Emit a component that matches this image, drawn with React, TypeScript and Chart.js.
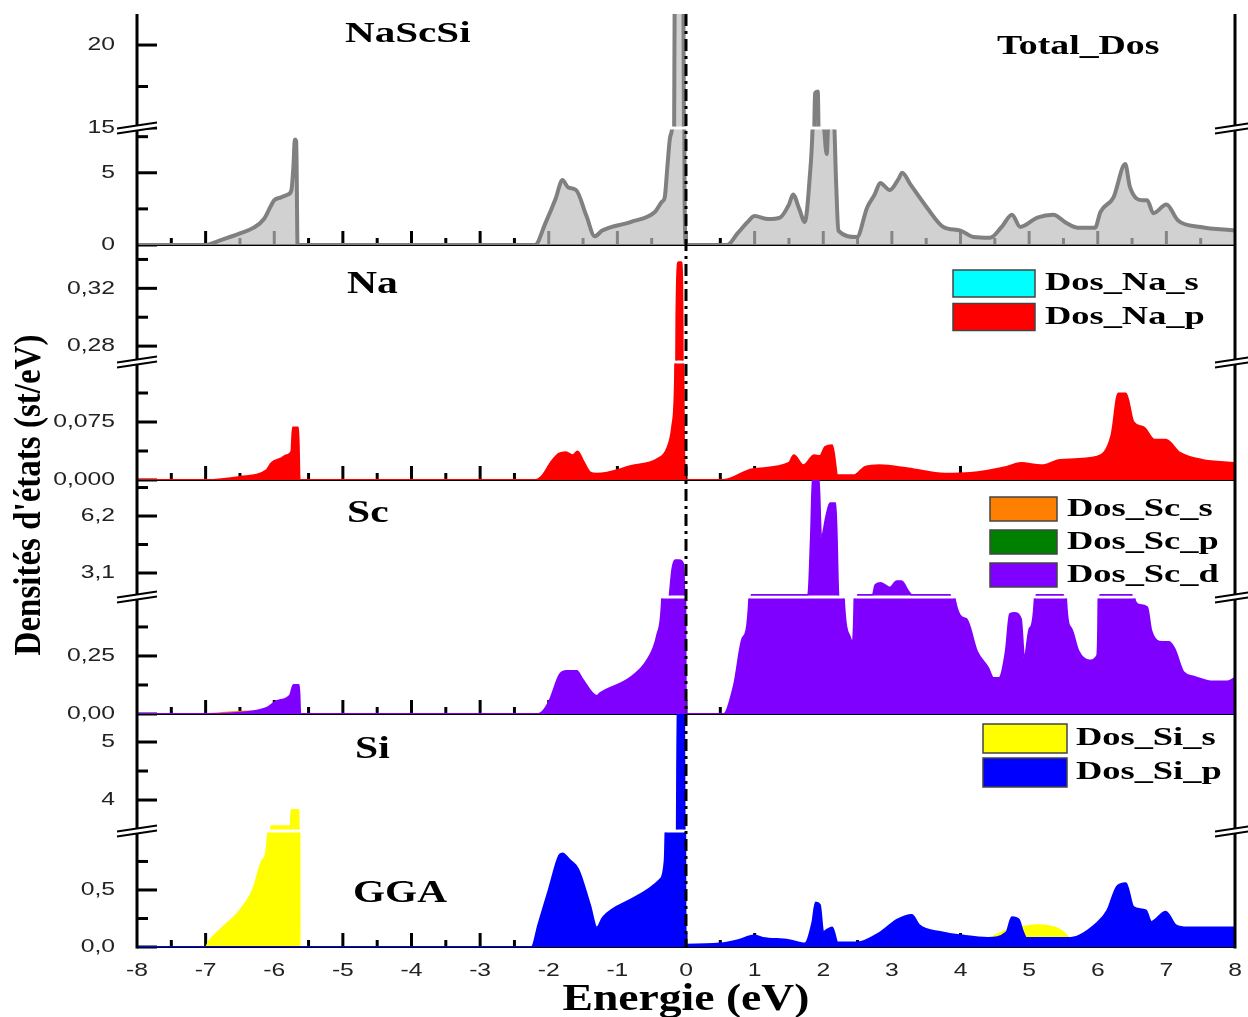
import React, { useEffect, useRef } from 'react';
import { Chart, registerables } from 'chart.js';

type Pt = [number, number];

// ---------------- data (energy eV, DOS st/eV) ----------------
const X_TICKS = [-8, -7, -6, -5, -4, -3, -2, -1, 0, 1, 2, 3, 4, 5, 6, 7, 8];
const X_TICK_LABELS = ['-8', '-7', '-6', '-5', '-4', '-3', '-2', '-1', '0', '1', '2', '3', '4', '5', '6', '7', '8'];

const TOTAL_DOS: Pt[] = [
  [-8, 0], [-7.0, 0], [-6.8, 0.3], [-6.5, 0.8], [-6.3, 1.2], [-6.15, 1.8], [-6.05, 2.7], [-6.0, 3.1], [-5.9, 3.3], [-5.8, 3.5],
  [-5.75, 3.8], [-5.72, 5.5], [-5.7, 7.3], [-5.68, 7.2], [-5.66, 0], [-2.2, 0], [-2.05, 1.5], [-1.9, 3.2], [-1.8, 4.5], [-1.72, 4.0],
  [-1.6, 3.8], [-1.45, 2.0], [-1.33, 0.6], [-1.22, 1.0], [-0.8, 1.6], [-0.45, 2.3], [-0.35, 3.0], [-0.31, 3.3], [-0.27, 5.5], [-0.23, 7.5],
  [-0.18, 10], [-0.16, 25], [-0.04, 25], [-0.02, 3], [0, 0], [0.6, 0], [0.75, 0.8], [0.9, 1.6], [1.0, 2.0], [1.2, 1.8],
  [1.37, 1.9], [1.5, 2.8], [1.56, 3.5], [1.65, 2.5], [1.73, 1.6], [1.8, 4.5], [1.85, 9], [1.88, 17.1], [1.92, 17.2], [1.95, 9],
  [2.0, 8.5], [2.05, 6.3], [2.08, 9], [2.15, 9], [2.19, 4], [2.22, 1.0], [2.49, 0.55], [2.64, 2.6], [2.75, 3.5], [2.83, 4.3],
  [2.97, 3.8], [3.1, 4.6], [3.15, 5.0], [3.27, 4.2], [3.51, 2.6], [3.75, 1.25], [4.0, 1.0], [4.19, 0.55], [4.43, 0.5], [4.6, 1.25],
  [4.75, 2.1], [4.87, 1.25], [5.12, 1.9], [5.35, 2.1], [5.55, 1.5], [5.7, 1.2], [5.96, 1.2], [6.04, 2.3], [6.23, 3.3], [6.4, 5.6],
  [6.47, 4.0], [6.65, 3.1], [6.72, 3.1], [6.81, 2.2], [7.0, 2.8], [7.17, 1.7], [7.5, 1.25], [8.0, 1.0],
];

const NA_S: Pt[] = [[-8, 0], [8, 0]];
const NA_P: Pt[] = [
  [-8, 0], [-7, 0], [-6.5, 0.004], [-6.11, 0.013], [-6.04, 0.022], [-5.9, 0.028], [-5.82, 0.032], [-5.75, 0.037], [-5.73, 0.068], [-5.65, 0.068],
  [-5.63, 0], [-2.2, 0], [-2.1, 0.005], [-1.95, 0.025], [-1.85, 0.034], [-1.75, 0.036], [-1.65, 0.032], [-1.58, 0.037], [-1.5, 0.025], [-1.4, 0.01],
  [-1.3, 0.008], [-0.8, 0.018], [-0.4, 0.028], [-0.28, 0.04], [-0.2, 0.07], [-0.16, 0.13], [-0.14, 0.3], [-0.11, 0.338], [-0.07, 0.338], [-0.05, 0.3],
  [-0.03, 0.05], [0, 0], [0.55, 0], [0.97, 0.014], [1.5, 0.022], [1.57, 0.032], [1.71, 0.019], [1.87, 0.032], [1.95, 0.031], [2.03, 0.043],
  [2.13, 0.045], [2.21, 0.006], [2.45, 0.006], [2.61, 0.017], [2.82, 0.019], [3.24, 0.015], [3.77, 0.008], [4.14, 0.009], [4.67, 0.017], [4.88, 0.022],
  [5.19, 0.019], [5.45, 0.026], [5.99, 0.03], [6.2, 0.058], [6.3, 0.112], [6.41, 0.112], [6.52, 0.075], [6.67, 0.068], [6.83, 0.052], [6.99, 0.052],
  [7.2, 0.035], [7.52, 0.026], [8, 0.022],
];

const SC_S: Pt[] = [[-8, 0], [-7, 0], [-6.6, 0.008], [-6.2, 0.012], [-5.9, 0.01], [-5.7, 0.006], [-5.65, 0], [8, 0]];
const SC_P: Pt[] = [[-8, 0], [8, 0]];
const SC_D: Pt[] = [
  [-8, 0], [-6.8, 0], [-6.5, 0.005], [-6.11, 0.026], [-5.96, 0.056], [-5.77, 0.08], [-5.72, 0.125], [-5.64, 0.125], [-5.62, 0], [-2.15, 0],
  [-2.0, 0.05], [-1.84, 0.17], [-1.74, 0.185], [-1.59, 0.185], [-1.52, 0.155], [-1.3, 0.078], [-1.25, 0.09], [-0.82, 0.155], [-0.57, 0.23], [-0.42, 0.34],
  [-0.35, 0.49], [-0.25, 1.5], [-0.2, 3.3], [-0.16, 3.8], [-0.1, 3.8], [-0.04, 3.6], [-0.02, 1.5], [0, 0], [0.55, 0], [0.7, 0.125],
  [0.83, 0.33], [0.92, 0.49], [0.95, 1.9], [1.5, 1.9], [1.78, 1.9], [1.82, 5], [1.85, 8.5], [1.93, 8.5], [1.97, 5.0], [2.05, 6.3],
  [2.1, 6.9], [2.18, 6.9], [2.22, 1.9], [2.3, 0.5], [2.39, 0.33], [2.43, 0.31], [2.46, 0.6], [2.5, 1.9], [2.72, 1.9], [2.76, 2.45],
  [2.84, 2.55], [2.97, 2.3], [3.07, 2.65], [3.14, 2.65], [3.24, 2.1], [3.29, 1.9], [3.85, 1.9], [3.92, 0.49], [4.08, 0.41], [4.24, 0.27],
  [4.4, 0.2], [4.48, 0.155], [4.56, 0.155], [4.66, 0.27], [4.72, 0.43], [4.79, 0.435], [4.88, 0.41], [4.93, 0.24], [5.01, 0.37], [5.08, 0.49],
  [5.1, 1.9], [5.5, 1.9], [5.54, 0.49], [5.61, 0.37], [5.72, 0.27], [5.88, 0.23], [5.99, 0.25], [6.01, 0.49], [6.03, 1.9], [6.5, 1.9],
  [6.54, 0.49], [6.62, 0.47], [6.72, 0.46], [6.78, 0.36], [6.94, 0.31], [7.04, 0.31], [7.12, 0.28], [7.25, 0.18], [7.41, 0.16], [7.68, 0.14],
  [7.89, 0.14], [8.0, 0.155],
];

const SI_S: Pt[] = [
  [-8, 0], [-7.0, 0], [-6.95, 0.05], [-6.79, 0.15], [-6.5, 0.32], [-6.31, 0.5], [-6.17, 0.76], [-6.09, 1.0], [-6.05, 3.55], [-5.76, 3.55],
  [-5.75, 3.83], [-5.64, 3.83], [-5.63, 0], [4.3, 0], [4.45, 0.08], [4.7, 0.15], [4.95, 0.18], [5.14, 0.19], [5.3, 0.18], [5.45, 0.15],
  [5.55, 0.1], [5.61, 0.06], [5.65, 0], [8, 0],
];
const SI_P: Pt[] = [
  [-8, 0], [-2.25, 0], [-2.15, 0.2], [-2.0, 0.5], [-1.85, 0.8], [-1.8, 0.82], [-1.69, 0.76], [-1.57, 0.68], [-1.4, 0.37], [-1.3, 0.17],
  [-1.21, 0.26], [-0.82, 0.41], [-0.38, 0.59], [-0.31, 0.76], [-0.28, 1.5], [-0.14, 2.5], [-0.12, 6], [-0.03, 6], [-0.01, 0.5], [0, 0.02],
  [0.49, 0.03], [0.76, 0.06], [0.99, 0.1], [1.12, 0.08], [1.5, 0.06], [1.73, 0.03], [1.84, 0.21], [1.89, 0.39], [1.95, 0.37], [2.0, 0.13],
  [2.05, 0.15], [2.13, 0.17], [2.21, 0.04], [2.5, 0.04], [2.81, 0.12], [3.08, 0.24], [3.29, 0.28], [3.4, 0.19], [3.72, 0.13], [4.03, 0.1],
  [4.4, 0.08], [4.67, 0.13], [4.75, 0.26], [4.85, 0.24], [4.9, 0.15], [4.96, 0.08], [5.61, 0.08], [5.99, 0.21], [6.14, 0.32], [6.28, 0.53],
  [6.41, 0.56], [6.52, 0.35], [6.7, 0.32], [6.78, 0.22], [6.99, 0.31], [7.14, 0.19], [7.31, 0.17], [8.0, 0.17],
];

// broken-axis ranges and ticks
const TOTAL_HI_RANGE = [15, 21.87];
const TOTAL_LO_RANGE = [0, 8.1];
const NA_HI_RANGE = [0.269, 0.35];
const NA_LO_RANGE = [0, 0.1526];
const SC_HI_RANGE = [1.794, 8.16];
const SC_LO_RANGE = [0, 0.504];
const SI_HI_RANGE = [3.466, 5.483];
const SI_LO_RANGE = [0, 1.017];

const TOTAL_HI_TICKS = [15, 20];
const TOTAL_HI_LABELS = ['15', '20'];
const TOTAL_HI_MINOR = [17.5];
const TOTAL_LO_TICKS = [0, 5];
const TOTAL_LO_LABELS = ['0', '5'];
const TOTAL_LO_MINOR = [2.5, 7.5];
const NA_HI_TICKS = [0.28, 0.32];
const NA_HI_LABELS = ['0,28', '0,32'];
const NA_HI_MINOR = [0.3, 0.34];
const NA_LO_TICKS = [0, 0.075];
const NA_LO_LABELS = ['0,000', '0,075'];
const NA_LO_MINOR = [0.0375, 0.1125];
const SC_HI_TICKS = [3.1, 6.2];
const SC_HI_LABELS = ['3,1', '6,2'];
const SC_HI_MINOR = [4.65, 7.75];
const SC_LO_TICKS = [0, 0.25];
const SC_LO_LABELS = ['0,00', '0,25'];
const SC_LO_MINOR = [0.125, 0.375];
const SI_HI_TICKS = [4, 5];
const SI_HI_LABELS = ['4', '5'];
const SI_HI_MINOR = [4.5];
const SI_LO_TICKS = [0, 0.5];
const SI_LO_LABELS = ['0,0', '0,5'];
const SI_LO_MINOR = [0.25, 0.75];

// ---------------- layout / style ----------------
const SEGMENTS = [
  { id: 'totHi', panel: 'tot', upper: true, range: TOTAL_HI_RANGE, ticks: TOTAL_HI_TICKS, labels: TOTAL_HI_LABELS, minor: TOTAL_HI_MINOR, h: 114 },
  { id: 'totLo', panel: 'tot', upper: false, range: TOTAL_LO_RANGE, ticks: TOTAL_LO_TICKS, labels: TOTAL_LO_LABELS, minor: TOTAL_LO_MINOR, h: 117 },
  { id: 'naHi', panel: 'na', upper: true, range: NA_HI_RANGE, ticks: NA_HI_TICKS, labels: NA_HI_LABELS, minor: NA_HI_MINOR, h: 117 },
  { id: 'naLo', panel: 'na', upper: false, range: NA_LO_RANGE, ticks: NA_LO_TICKS, labels: NA_LO_LABELS, minor: NA_LO_MINOR, h: 118 },
  { id: 'scHi', panel: 'sc', upper: true, range: SC_HI_RANGE, ticks: SC_HI_TICKS, labels: SC_HI_LABELS, minor: SC_HI_MINOR, h: 117 },
  { id: 'scLo', panel: 'sc', upper: false, range: SC_LO_RANGE, ticks: SC_LO_TICKS, labels: SC_LO_LABELS, minor: SC_LO_MINOR, h: 117 },
  { id: 'siHi', panel: 'si', upper: true, range: SI_HI_RANGE, ticks: SI_HI_TICKS, labels: SI_HI_LABELS, minor: SI_HI_MINOR, h: 117 },
  { id: 'siLo', panel: 'si', upper: false, range: SI_LO_RANGE, ticks: SI_LO_TICKS, labels: SI_LO_LABELS, minor: SI_LO_MINOR, h: 116 },
];
const UPPER_IDS = SEGMENTS.filter((s) => s.upper).map((s) => s.id);
const LOWER_IDS = SEGMENTS.filter((s) => !s.upper).map((s) => s.id);

const SERIES = [
  { label: 'Total_Dos', panel: 'tot', data: TOTAL_DOS, line: '#808080', fill: 'rgba(190,190,190,0.7)', width: 4, order: 1 },
  { label: 'Dos_Na_s', panel: 'na', data: NA_S, line: '#00ffff', fill: '#00ffff', width: 2, order: 2 },
  { label: 'Dos_Na_p', panel: 'na', data: NA_P, line: '#ff0000', fill: '#ff0000', width: 2, order: 1 },
  { label: 'Dos_Sc_s', panel: 'sc', data: SC_S, line: '#ff8000', fill: '#ff8000', width: 2, order: 3 },
  { label: 'Dos_Sc_p', panel: 'sc', data: SC_P, line: '#008000', fill: '#008000', width: 2, order: 2 },
  { label: 'Dos_Sc_d', panel: 'sc', data: SC_D, line: '#8000ff', fill: '#8000ff', width: 2, order: 1 },
  { label: 'Dos_Si_s', panel: 'si', data: SI_S, line: '#ffff00', fill: '#ffff00', width: 2, order: 2 },
  { label: 'Dos_Si_p', panel: 'si', data: SI_P, line: '#0000ff', fill: '#0000ff', width: 2, order: 1 },
];

const LEGENDS = [
  { panel: 'na', x: 953, y0: 270, step: 33.5, w: 82, h: 27, textX: 1045 },
  { panel: 'sc', x: 990, y0: 497, step: 33, w: 67, h: 24, textX: 1067 },
  { panel: 'si', x: 983, y0: 724, step: 34, w: 84, h: 29, textX: 1076 },
];

const PANEL_TEXTS = [
  { text: 'NaScSi', x: 345, y: 34, size: 30, sx: 1.37 },
  { text: 'Total_Dos', x: 997, y: 47, size: 27, sx: 1.4 },
  { text: 'Na', x: 347, y: 285, size: 32, sx: 1.3 },
  { text: 'Sc', x: 347, y: 514, size: 32, sx: 1.3 },
  { text: 'Si', x: 355, y: 750, size: 32, sx: 1.3 },
  { text: 'GGA', x: 353, y: 894, size: 31, sx: 1.33 },
];

const SERIF = '"Liberation Serif", "Times New Roman", serif';
const SANS = '"Liberation Sans", Arial, sans-serif';
const TICK_FONT = `19px ${SANS}`;
const TICK_SX = 1.3;

// ---------------- helpers ----------------
function seg(ctx: CanvasRenderingContext2D, x1: number, y1: number, x2: number, y2: number) {
  ctx.beginPath();
  ctx.moveTo(x1, y1);
  ctx.lineTo(x2, y2);
  ctx.stroke();
}

function drawText(ctx: CanvasRenderingContext2D, s: string, x: number, y: number, font: string, align: string, sx = 1, color = '#000') {
  ctx.save();
  ctx.font = font;
  ctx.fillStyle = color;
  ctx.textBaseline = 'middle';
  ctx.textAlign = 'left';
  const w = ctx.measureText(s).width * sx;
  const left = align === 'left' ? x : align === 'right' ? x - w : x - w / 2;
  ctx.translate(left, y);
  ctx.scale(sx, 1);
  ctx.fillText(s, 0, 0);
  ctx.restore();
}

function breakMark(ctx: CanvasRenderingContext2D, cx: number, y: number) {
  const hw = 20, dy = 3, d = 2.5;
  ctx.save();
  ctx.fillStyle = '#fff';
  ctx.beginPath();
  ctx.moveTo(cx - hw, y + dy - d);
  ctx.lineTo(cx + hw, y - dy - d);
  ctx.lineTo(cx + hw, y - dy + d);
  ctx.lineTo(cx - hw, y + dy + d);
  ctx.closePath();
  ctx.fill();
  ctx.strokeStyle = '#000';
  ctx.lineWidth = 2;
  seg(ctx, cx - hw, y + dy - d, cx + hw, y - dy - d);
  seg(ctx, cx - hw, y + dy + d, cx + hw, y - dy + d);
  ctx.restore();
}

// clip every dataset (line + fill) to its own broken-axis segment
const panelClip = {
  id: 'panelClip',
  beforeDatasetDraw(chart: any, args: any) {
    const ys = args.meta.yScale;
    const ca = chart.chartArea;
    const upper = UPPER_IDS.indexOf(ys.id) >= 0;
    const top = upper ? ys.top : ys.top + 1.5;
    const bottom = upper ? ys.bottom - 1.5 : ys.bottom + 2;
    const ctx = chart.ctx;
    ctx.save();
    ctx.beginPath();
    ctx.rect(ca.left - 2, top, ca.right - ca.left + 4, bottom - top);
    ctx.clip();
  },
  afterDatasetDraw(chart: any) {
    chart.ctx.restore();
  },
};
Chart.register(panelClip as any);
Chart.register(...registerables);

const decor = {
  id: 'decor',
  beforeDatasetsDraw(chart: any) {
    const ctx: CanvasRenderingContext2D = chart.ctx;
    const ca = chart.chartArea;
    const xs = chart.scales.x;
    ctx.save();
    ctx.strokeStyle = '#000';
    for (const id of LOWER_IDS) {
      const y = chart.scales[id].bottom;
      ctx.lineWidth = 2;
      seg(ctx, ca.left, y, ca.right, y);
      ctx.lineWidth = 3;
      for (let k = -15; k <= 15; k++) {
        const px = xs.getPixelForValue(k / 2);
        const major = k % 2 === 0;
        seg(ctx, px, y, px, y - (major ? 14 : 7));
      }
    }
    for (const s of SEGMENTS) {
      const sc = chart.scales[s.id];
      ctx.lineWidth = 3;
      for (const v of s.ticks) {
        const py = sc.getPixelForValue(v);
        seg(ctx, ca.left, py, ca.left + 20, py);
      }
      for (const v of s.minor) {
        const py = sc.getPixelForValue(v);
        seg(ctx, ca.left, py, ca.left + 11, py);
      }
    }
    ctx.restore();
  },
  afterDatasetsDraw(chart: any) {
    const ctx: CanvasRenderingContext2D = chart.ctx;
    const ca = chart.chartArea;
    const xs = chart.scales.x;
    ctx.save();
    // zero-energy dash-dot line
    const x0 = xs.getPixelForValue(0);
    ctx.strokeStyle = '#000';
    ctx.lineWidth = 3;
    ctx.setLineDash([12, 5, 3, 5]);
    seg(ctx, x0, ca.top, x0, ca.bottom);
    ctx.setLineDash([]);
    // frame (left / right axes)
    ctx.lineWidth = 3;
    seg(ctx, ca.left, ca.top, ca.left, ca.bottom + 1.5);
    seg(ctx, ca.right, ca.top, ca.right, ca.bottom + 1.5);
    // axis breaks
    for (const id of UPPER_IDS) {
      const y = chart.scales[id].bottom;
      breakMark(ctx, ca.left, y);
      breakMark(ctx, ca.right, y);
    }
    // y tick labels
    for (const s of SEGMENTS) {
      const sc = chart.scales[s.id];
      s.ticks.forEach((v, i) => {
        drawText(ctx, s.labels[i], ca.left - 22, sc.getPixelForValue(v), TICK_FONT, 'right', TICK_SX, '#222');
      });
    }
    // x tick labels
    X_TICKS.forEach((v, i) => {
      drawText(ctx, X_TICK_LABELS[i], xs.getPixelForValue(v), 971, TICK_FONT, 'center', TICK_SX, '#222');
    });
    // axis titles
    drawText(ctx, 'Energie (eV)', (ca.left + ca.right) / 2, 1000, `bold 38px ${SERIF}`, 'center', 1.2);
    ctx.save();
    ctx.translate(30, 495);
    ctx.rotate(-Math.PI / 2);
    ctx.scale(1, 1.15);
    ctx.font = `bold 33px ${SERIF}`;
    ctx.fillStyle = '#000';
    ctx.textAlign = 'center';
    ctx.textBaseline = 'middle';
    ctx.fillText("Densités d'états (st/eV)", 0, 0);
    ctx.restore();
    // panel captions
    for (const t of PANEL_TEXTS) {
      drawText(ctx, t.text, t.x, t.y, `bold ${t.size}px ${SERIF}`, 'left', t.sx);
    }
    // legends
    for (const lg of LEGENDS) {
      const items = SERIES.filter((s) => s.panel === lg.panel);
      items.forEach((s, i) => {
        const y = lg.y0 + i * lg.step;
        ctx.fillStyle = s.line;
        ctx.fillRect(lg.x, y, lg.w, lg.h);
        ctx.strokeStyle = '#444';
        ctx.lineWidth = 1.5;
        ctx.strokeRect(lg.x, y, lg.w, lg.h);
        drawText(ctx, s.label, lg.textX, y + lg.h / 2, `bold 26px ${SERIF}`, 'left', 1.4);
      });
    }
    ctx.restore();
  },
};

export default function App() {
  const ref = useRef<HTMLCanvasElement>(null);
  useEffect(() => {
    const datasets: any[] = [];
    for (const s of SERIES) {
      for (const g of SEGMENTS.filter((seg) => seg.panel === s.panel)) {
        datasets.push({
          label: s.label,
          data: s.data.map(([x, y]) => ({ x, y })),
          yAxisID: g.id,
          borderColor: s.line,
          backgroundColor: s.fill,
          borderWidth: s.width,
          borderJoinStyle: 'round',
          fill: 'origin',
          pointRadius: 0,
          cubicInterpolationMode: 'monotone',
          order: s.order,
        });
      }
    }
    const scales: any = {
      x: {
        type: 'linear', min: -8, max: 8,
        ticks: { display: false }, grid: { display: false }, border: { display: false },
        afterFit: (s: any) => { s.height = 70; },
      },
    };
    SEGMENTS.forEach((g, i) => {
      scales[g.id] = {
        type: 'linear', position: 'left', stack: 'dos', stackWeight: g.h, weight: SEGMENTS.length - i,
        min: g.range[0], max: g.range[1],
        ticks: { display: false }, grid: { display: false }, border: { display: false },
        afterFit: (s: any) => { s.width = 137; },
      };
    });
    const chart = new Chart(ref.current as HTMLCanvasElement, {
      type: 'line',
      data: { datasets },
      options: {
        responsive: false,
        animation: false,
        devicePixelRatio: 1,
        events: [],
        layout: { padding: { top: 14, right: 13, left: 0, bottom: 0 } },
        plugins: { legend: { display: false }, tooltip: { enabled: false } },
        scales,
      } as any,
      plugins: [decor as any],
    });
    return () => chart.destroy();
  }, []);
  return (
    <canvas
      ref={ref}
      width={1248}
      height={1017}
      style={{ position: 'fixed', left: 0, top: 0, width: 1248, height: 1017, background: '#fff' }}
    />
  );
}
